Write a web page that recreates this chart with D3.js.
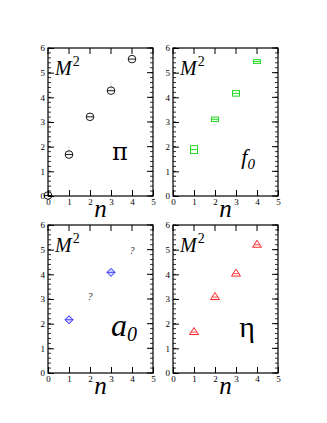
<!DOCTYPE html>
<html lang="en">
<head>
<meta charset="UTF-8">
<title>M2 vs n</title>
<script src="https://cdn.jsdelivr.net/npm/d3@7"></script>
<style>
  body { margin: 0; background: #fff; }
  .tick text { font-family: "Liberation Serif", "DejaVu Serif", serif; font-size: 9px; fill: #000; }
  .lab { font-family: "Liberation Serif", "DejaVu Serif", serif; font-style: italic; fill: #000; }
</style>
</head>
<body>
<script>
// data
var xTicks = [0, 1, 2, 3, 4, 5];
var yTicks = [0, 1, 2, 3, 4, 5, 6];

var piN = [0, 1, 2, 3, 4];
var piM2 = [0.02, 1.68, 3.21, 4.27, 5.55];
var piErr = [0, 0.35, 0, 0.35, 0];

var f0N = [1, 2, 3, 4];
var f0M2 = [1.88, 3.11, 4.16, 5.45];
var f0Err = [0.12, 0.05, 0.07, 0.04];

var a0N = [1, 3];
var a0M2 = [2.16, 4.08];
var a0Unknown = [[2, 3.1], [4, 4.95]];

var etaN = [1, 2, 3, 4];
var etaM2 = [1.68, 3.1, 4.05, 5.22];

var W = 327, H = 423;
var pw = 105, ph = 148;

var svg = d3.select('body').append('svg')
  .attr('width', W)
  .attr('height', H);

var x = d3.scaleLinear().domain([0, 5]).range([0, pw]);
var y = d3.scaleLinear().domain([0, 6]).range([ph, 0]);

function panel(left, top) {
  var g = svg.append('g').attr('transform', 'translate(' + left + ',' + top + ')');

  // minor ticks on y, both sides, pointing in
  var minors = d3.range(0, 6.01, 0.2);
  g.selectAll('.minL').data(minors).enter().append('line')
    .attr('x1', 0).attr('x2', 3)
    .attr('y1', function(d) { return y(d); }).attr('y2', function(d) { return y(d); })
    .attr('stroke', '#000').attr('stroke-width', 0.8);
  g.selectAll('.minR').data(minors).enter().append('line')
    .attr('x1', pw).attr('x2', pw - 3)
    .attr('y1', function(d) { return y(d); }).attr('y2', function(d) { return y(d); })
    .attr('stroke', '#000').attr('stroke-width', 0.8);
  // major ticks on right and top
  g.selectAll('.majR').data(yTicks).enter().append('line')
    .attr('x1', pw).attr('x2', pw - 6)
    .attr('y1', function(d) { return y(d); }).attr('y2', function(d) { return y(d); })
    .attr('stroke', '#000').attr('stroke-width', 1);
  g.selectAll('.majT').data(xTicks).enter().append('line')
    .attr('y1', 0).attr('y2', 6)
    .attr('x1', function(d) { return x(d); }).attr('x2', function(d) { return x(d); })
    .attr('stroke', '#000').attr('stroke-width', 1);

  var xa = g.append('g')
    .attr('transform', 'translate(0,' + ph + ')')
    .call(d3.axisBottom(x).tickValues(xTicks).tickSizeInner(-6).tickSizeOuter(0).tickPadding(3).tickFormat(d3.format('d')));
  var ya = g.append('g')
    .call(d3.axisLeft(y).tickValues(yTicks).tickSizeInner(-6).tickSizeOuter(0).tickPadding(3).tickFormat(d3.format('d')));
  [xa, ya].forEach(function(a) {
    a.select('.domain').remove();
    a.selectAll('line').attr('stroke', '#000');
  });

  g.append('rect')
    .attr('width', pw).attr('height', ph)
    .attr('fill', 'none').attr('stroke', '#000').attr('stroke-width', 1.2);

  // M^2 label
  var m = g.append('text').attr('class', 'lab')
    .attr('x', 7).attr('y', y(4.9))
    .style('font-size', '20px');
  m.append('tspan').text('M');
  m.append('tspan').attr('dx', 1).attr('dy', -9).style('font-size', '14px').style('font-style', 'normal').text('2');

  // n label
  g.append('text').attr('class', 'lab')
    .attr('x', x(2.5)).attr('y', ph + 21)
    .attr('text-anchor', 'middle')
    .style('font-size', '25px')
    .text('n');

  return g;
}

// pi
var g1 = panel(48, 48);
g1.selectAll('.err').data(piN).enter().append('line')
  .attr('x1', function(d) { return x(d); }).attr('x2', function(d) { return x(d); })
  .attr('y1', function(d, i) { return y(piM2[i]); })
  .attr('y2', function(d, i) { return y(piM2[i] + piErr[i]); })
  .attr('stroke', '#d8d8d8').attr('stroke-width', 1);
var pis = g1.selectAll('.pi').data(piN).enter().append('g')
  .attr('transform', function(d, i) { return 'translate(' + x(d) + ',' + y(piM2[i]) + ')'; });
pis.append('circle').attr('r', 3.8).attr('fill', 'none').attr('stroke', '#000').attr('stroke-width', 0.9);
pis.append('line').attr('x1', -3.8).attr('x2', 3.8).attr('stroke', '#000').attr('stroke-width', 0.9);
g1.append('text')
  .attr('x', x(3.05)).attr('y', y(1.45))
  .style('font-family', '"DejaVu Serif", serif').style('font-size', '24px')
  .text('π');

// f0
var g2 = panel(173, 48);
var f0s = g2.selectAll('.f0').data(f0N).enter().append('g')
  .attr('transform', function(d, i) { return 'translate(' + x(d) + ',' + y(f0M2[i]) + ')'; });
f0s.append('rect')
  .attr('x', -3.5).attr('width', 7)
  .attr('y', function(d, i) { return y(f0M2[i] + f0Err[i]) - y(f0M2[i]) - 1; })
  .attr('height', function(d, i) { return y(f0M2[i] - f0Err[i]) - y(f0M2[i] + f0Err[i]) + 2; })
  .attr('fill', 'none').attr('stroke', '#22dd22').attr('stroke-width', 1);
f0s.append('line').attr('x1', -3.5).attr('x2', 3.5).attr('stroke', '#22dd22').attr('stroke-width', 1);
g2.append('text').attr('class', 'lab')
  .attr('x', x(3.25)).attr('y', y(1.3))
  .style('font-size', '22px')
  .text('f')
  .append('tspan').attr('dy', 5).style('font-size', '15px').text('0');

// a0
var g3 = panel(48, 225);
var a0s = g3.selectAll('.a0').data(a0N).enter().append('g')
  .attr('transform', function(d, i) { return 'translate(' + x(d) + ',' + y(a0M2[i]) + ')'; });
a0s.append('path').attr('d', 'M0,-4L4,0L0,4L-4,0Z')
  .attr('fill', '#9999ff').attr('fill-opacity', 0.4).attr('stroke', '#2222ff').attr('stroke-width', 1);
a0s.append('line').attr('x1', -4).attr('x2', 4).attr('stroke', '#2222ff').attr('stroke-width', 0.8);
g3.selectAll('.q').data(a0Unknown).enter().append('text').attr('class', 'lab')
  .attr('x', function(d) { return x(d[0]); }).attr('y', function(d) { return y(d[1]) + 3; })
  .attr('text-anchor', 'middle')
  .style('font-size', '10px').style('fill', '#333')
  .text('?');
g3.append('text').attr('class', 'lab')
  .attr('x', x(3.0)).attr('y', y(1.5))
  .style('font-size', '32px')
  .text('a')
  .append('tspan').attr('dy', 5).style('font-size', '20px').text('0');

// eta
var g4 = panel(173, 225);
var etas = g4.selectAll('.eta').data(etaN).enter().append('g')
  .attr('transform', function(d, i) { return 'translate(' + x(d) + ',' + y(etaM2[i]) + ')'; });
etas.append('path').attr('d', 'M0,-4L4.5,3L-4.5,3Z')
  .attr('fill', 'none').attr('stroke', '#ff2222').attr('stroke-width', 1);
etas.append('line').attr('x1', -3).attr('x2', 3).attr('y1', 0.5).attr('y2', 0.5).attr('stroke', '#ff2222').attr('stroke-width', 0.8);
g4.append('text')
  .attr('x', x(3.15)).attr('y', y(1.45))
  .style('font-family', '"Liberation Serif", serif').style('font-size', '30px')
  .text('η');
</script>
</body>
</html>
